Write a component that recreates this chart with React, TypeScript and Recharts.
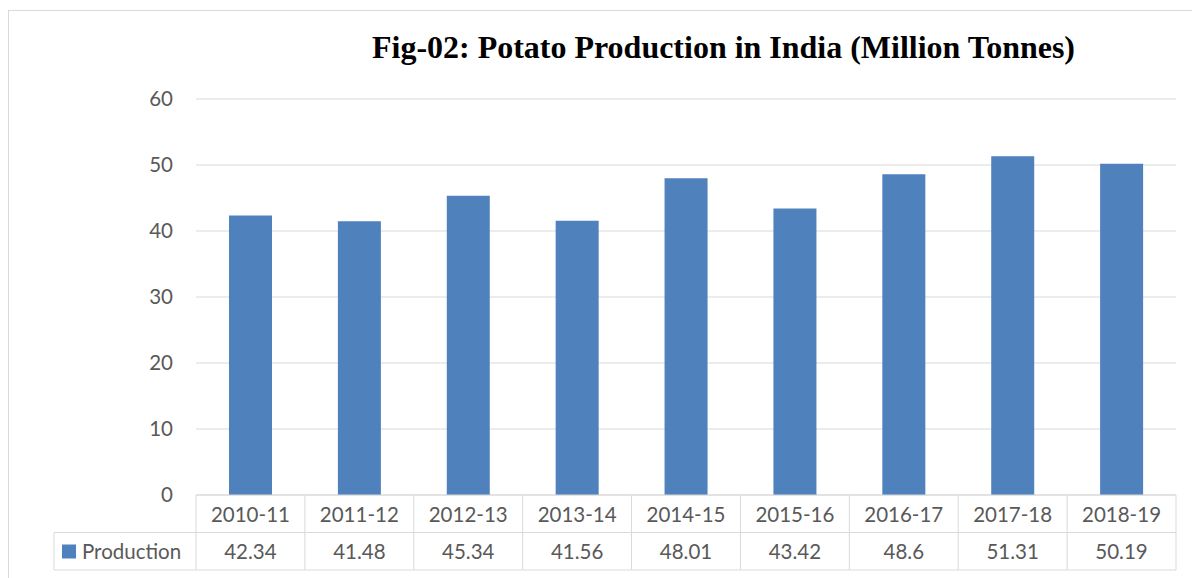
import React from 'react';
import { BarChart, Bar, XAxis, YAxis, CartesianGrid } from 'recharts';

const categories = ['2010-11', '2011-12', '2012-13', '2013-14', '2014-15', '2015-16', '2016-17', '2017-18', '2018-19'];
const production = [42.34, 41.48, 45.34, 41.56, 48.01, 43.42, 48.6, 51.31, 50.19];
const yTicks = [0, 10, 20, 30, 40, 50, 60];
const seriesName = 'Production';
const title = 'Fig-02: Potato Production in India (Million Tonnes)';

const data = categories.map((c, i) => ({ category: c, production: production[i] }));

const W = 1192;
const H = 578;
const PLOT_LEFT = 196;
const PLOT_RIGHT = 1176;
const PLOT_TOP = 99;
const PLOT_BOTTOM = 495;
const ROW_H = 37.5;
const LEGEND_X = 54;
const CELL_W = (PLOT_RIGHT - PLOT_LEFT) / categories.length;
const LINE = '#d9d9d9';
const TEXT = '#595959';
const BLUE = '#4f81bd';
const FONT = 'Lato, "Open Sans", sans-serif';
const FS = 20.5;

function TableTick(props: any) {
  const { x, y, payload, index } = props;
  const half = CELL_W / 2;
  const left = x - half;
  const right = x + half;
  return (
    <g>
      <line x1={left} x2={right} y1={y + ROW_H} y2={y + ROW_H} stroke={LINE} />
      <line x1={left} x2={right} y1={y + 2 * ROW_H} y2={y + 2 * ROW_H} stroke={LINE} />
      <line x1={right} x2={right} y1={y} y2={y + 2 * ROW_H} stroke={LINE} />
      {index === 0 && (
        <g>
          <line x1={left} x2={left} y1={y} y2={y + 2 * ROW_H} stroke={LINE} />
          <line x1={LEGEND_X} x2={left} y1={y + ROW_H} y2={y + ROW_H} stroke={LINE} />
          <line x1={LEGEND_X} x2={left} y1={y + 2 * ROW_H} y2={y + 2 * ROW_H} stroke={LINE} />
          <line x1={LEGEND_X} x2={LEGEND_X} y1={y + ROW_H} y2={y + 2 * ROW_H} stroke={LINE} />
          <rect x={62} y={y + ROW_H + 12} width={14} height={14} fill={BLUE} />
          <text x={82} y={y + 1.5 * ROW_H} dominantBaseline="central" fill={TEXT} fontSize={FS} fontFamily={FONT}>
            {seriesName}
          </text>
        </g>
      )}
      <text x={x} y={y + ROW_H / 2} textAnchor="middle" dominantBaseline="central" fill={TEXT} fontSize={FS} fontFamily={FONT}>
        {payload.value}
      </text>
      <text x={x} y={y + 1.5 * ROW_H} textAnchor="middle" dominantBaseline="central" fill={TEXT} fontSize={FS} fontFamily={FONT}>
        {String(production[index])}
      </text>
    </g>
  );
}

export default function App() {
  return (
    <div style={{ position: 'absolute', left: 0, top: 0, width: W, height: H, overflow: 'hidden', background: '#fff' }}>
      <div style={{ position: 'absolute', left: 8, top: 10, width: 1400, height: 800, border: `1px solid ${LINE}` }} />
      <div style={{ position: 'absolute', left: 0, top: 0 }}>
        <BarChart
          width={W}
          height={H}
          data={data}
          margin={{ top: PLOT_TOP, right: W - PLOT_RIGHT, left: 0, bottom: H - PLOT_BOTTOM - 2 * ROW_H - 5 }}
        >
          <CartesianGrid vertical={false} stroke={LINE} />
          <XAxis
            dataKey="category"
            interval={0}
            height={2 * ROW_H + 5}
            tickLine={false}
            tickSize={0}
            tickMargin={0}
            axisLine={{ stroke: LINE }}
            tick={<TableTick />}
          />
          <YAxis
            width={PLOT_LEFT}
            domain={[0, 60]}
            ticks={yTicks}
            axisLine={false}
            tickLine={false}
            tickSize={0}
            tickMargin={23}
            tick={{ fill: TEXT, fontSize: FS, fontFamily: FONT }}
          />
          <Bar dataKey="production" fill={BLUE} barSize={43} isAnimationActive={false} />
        </BarChart>
      </div>
      <svg style={{ position: 'absolute', left: 0, top: 0 }} width={W} height={80}>
        <text
          x={372}
          y={58}
          textLength={703}
          lengthAdjust="spacingAndGlyphs"
          fontFamily='"Liberation Serif", "Times New Roman", serif'
          fontWeight="bold"
          fontSize={32}
          fill="#000"
        >
          {title}
        </text>
      </svg>
    </div>
  );
}
